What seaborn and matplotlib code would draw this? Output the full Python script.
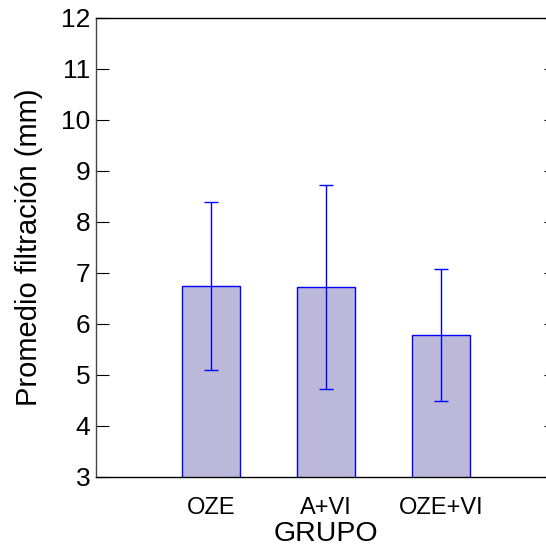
import numpy as np
import pandas as pd
import matplotlib
matplotlib.use("Agg")
import matplotlib.pyplot as plt
import seaborn as sns

# datos del grafico
grupos = ["OZE", "A+VI", "OZE+VI"]
promedio = [6.74, 6.72, 5.78]
desviacion = [1.65, 2.0, 1.30]
y_ticks = [3, 4, 5, 6, 7, 8, 9, 10, 11, 12]

sns.set_style("white")
plt.rcParams["font.family"] = ["Liberation Sans", "DejaVu Sans"]
plt.rcParams["text.color"] = "black"
plt.rcParams["axes.labelcolor"] = "black"
plt.rcParams["xtick.color"] = "black"
plt.rcParams["ytick.color"] = "black"

df = pd.DataFrame({"GRUPO": grupos, "promedio": promedio, "sd": desviacion})

fig = plt.figure(figsize=(5.46, 5.49), dpi=100)
ax = fig.add_axes([96 / 546, 72 / 549, (556 - 96) / 546, (477 - 17.5) / 549])

sns.barplot(data=df, x="GRUPO", y="promedio", ax=ax, width=0.5,
            color="#bbb8d9", edgecolor="#0000ff", linewidth=1.0,
            errorbar=None, saturation=1)

xpos = np.arange(len(grupos))
ax.errorbar(xpos, df["promedio"], yerr=df["sd"], fmt="none",
            ecolor="#0000ff", elinewidth=1.0, capsize=5, capthick=1.0)

ax.set_xlim(-1, 3)
ax.set_ylim(y_ticks[0], y_ticks[-1])
ax.set_yticks(y_ticks)
ax.set_xlabel("GRUPO", fontsize=20.5, labelpad=1)
ax.set_ylabel("Promedio filtración (mm)", fontsize=21, labelpad=13)

ax.tick_params(axis="y", which="both", direction="in", length=9,
               left=True, right=True, labelsize=19, pad=4, width=0.8)
ax.tick_params(axis="x", bottom=False, labelsize=17, pad=11)

for side in ["left", "top", "bottom", "right"]:
    ax.spines[side].set_visible(True)
    ax.spines[side].set_color("black")
    ax.spines[side].set_linewidth(1.0)
ax.spines["left"].set_color("#444444")

fig.savefig("out.png", dpi=100)
